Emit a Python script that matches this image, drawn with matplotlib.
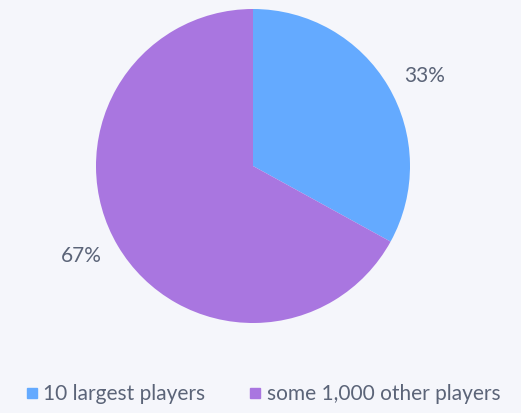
import matplotlib.pyplot as plt
from matplotlib.lines import Line2D

labels = ["10 largest players", "some 1,000 other players"]
shares = [33, 67]
colors = ["#64aaff", "#a976e0"]

bg = "#f5f6fb"
text_color = "#5b6478"
plt.rcParams["font.family"] = ["Lato", "DejaVu Sans"]

fig = plt.figure(figsize=(5.21, 4.13), dpi=100, facecolor=bg)
# pie centre (253,166) px, radius 157 px
ax = fig.add_axes([96 / 521, 90 / 413, 314 / 521, 314 / 413])
ax.set_facecolor(bg)
wedges, texts = ax.pie(shares, colors=colors, startangle=90, counterclock=False,
                       labels=[f"{v}%" for v in shares], labeldistance=1.12,
                       textprops={"color": text_color, "fontsize": 15},
                       wedgeprops={"linewidth": 0})
ax.set_xlim(-1, 1)
ax.set_ylim(-1, 1)
ax.set_aspect("equal")
ax.axis("off")

handles = [Line2D([], [], marker="s", linestyle="", markersize=7,
                  markerfacecolor=c, markeredgecolor=c) for c in colors]
fig.legend(handles, labels, loc="center", bbox_to_anchor=(262 / 521, 19 / 413),
           ncol=2, frameon=False, fontsize=15, labelcolor=text_color,
           handletextpad=0.15, columnspacing=2.0, handlelength=0.8)

fig.savefig("out.png", dpi=100, facecolor=bg)
